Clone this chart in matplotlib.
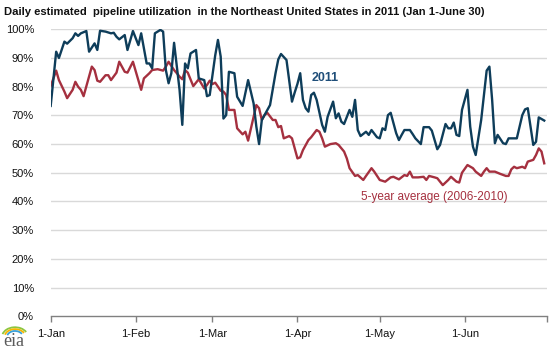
import numpy as np
import pandas as pd
import matplotlib
matplotlib.use("Agg")
import matplotlib.pyplot as plt
from matplotlib.patches import Arc

# day offsets from Jan 1, 2011 and utilization (%)
days_2011 = [0, 2, 3, 5, 6, 8, 9, 10, 11, 13, 14, 16, 17, 18, 20, 22, 23, 24, 25, 27,
             28, 30, 32, 33, 35, 36, 37, 38, 40, 41, 42, 43, 44, 45, 47, 48, 49, 50, 51, 53,
             54, 56, 57, 58, 60, 61, 62, 63, 64, 65, 67, 68, 70, 72, 74, 75, 76, 77, 79, 80,
             82, 83, 84, 86, 88, 89, 90, 91, 92, 93, 94, 95, 96, 97, 99, 100, 101, 103, 104, 105,
             106, 107, 109, 110, 111, 112, 113, 115, 116, 117, 119, 120, 121, 122, 123, 124, 126, 127, 128, 129,
             131, 132, 133, 135, 136, 138, 139, 141, 142, 144, 145, 146, 147, 148, 149, 150, 152, 153, 154, 155,
             157, 159, 160, 161, 162, 163, 165, 166, 167, 169, 170, 172, 173, 174, 176, 177, 178, 180]
util_2011 = [73.3, 92.2, 90.0, 95.7, 95.0, 96.9, 98.6, 97.7, 98.6, 99.4, 92.2, 95.1, 92.8, 99.5, 99.2, 98.6, 98.8, 97.4, 96.5, 98.0,
             92.8, 99.4, 94.5, 98.6, 88.1, 88.1, 86.4, 98.6, 99.8, 99.2, 85.8, 81.2, 84.7, 95.3, 78.9, 66.7, 88.1, 86.4, 91.6, 92.8,
             82.9, 82.3, 76.7, 77.1, 90.9, 96.3, 90.5, 68.9, 70.1, 85.2, 84.7, 76.5, 73.3, 82.3, 74.2, 66.1, 60.0, 68.4, 71.9, 73.6,
             84.7, 89.5, 91.4, 89.3, 74.8, 78.0, 81.0, 84.7, 75.4, 72.5, 71.3, 77.1, 77.9, 75.4, 66.7, 64.3, 69.5, 74.8, 69.0, 70.7,
             67.8, 67.0, 71.9, 69.5, 75.4, 64.9, 62.8, 64.3, 63.2, 64.9, 62.4, 62.0, 65.5, 64.9, 70.1, 70.9, 63.8, 61.4, 63.2, 64.9,
             64.9, 63.5, 62.0, 60.0, 65.9, 65.9, 64.7, 58.2, 59.7, 67.0, 65.5, 65.5, 67.5, 63.2, 62.8, 71.9, 78.9, 66.1, 59.1, 56.2,
             68.4, 85.6, 87.0, 75.4, 60.3, 63.2, 60.3, 60.0, 62.0, 62.0, 62.0, 70.1, 72.1, 72.5, 59.7, 60.8, 69.3, 68.2]

days_avg = [0, 2, 3, 5, 6, 8, 9, 10, 11, 12, 14, 15, 16, 17, 18, 20, 21, 22, 24, 25,
            27, 28, 30, 33, 34, 36, 37, 39, 41, 42, 43, 45, 46, 47, 48, 49, 50, 52, 53, 54,
            56, 57, 58, 59, 60, 62, 63, 64, 65, 67, 68, 70, 71, 72, 75, 76, 77, 78, 79, 81,
            82, 83, 84, 85, 87, 88, 89, 90, 91, 92, 94, 95, 97, 98, 99, 100, 102, 104, 105, 107,
            108, 109, 111, 112, 114, 115, 117, 118, 120, 122, 124, 125, 127, 129, 130, 131, 132, 134, 136, 137,
            138, 140, 141, 143, 145, 146, 148, 149, 150, 152, 154, 155, 157, 158, 159, 160, 162, 163, 164, 166,
            167, 168, 169, 170, 172, 173, 174, 176, 177, 178, 179, 180]
util_avg = [80.2, 85.6, 82.3, 78.3, 76.0, 78.9, 81.7, 80.0, 78.9, 76.7, 83.5, 87.0, 85.8, 82.1, 81.7, 84.0, 84.0, 82.3, 84.9, 88.7,
            85.2, 84.9, 88.7, 78.9, 82.9, 84.7, 85.8, 86.1, 85.6, 87.0, 88.7, 85.8, 84.7, 83.5, 82.6, 85.8, 84.9, 80.2, 81.4, 82.6,
            79.4, 80.6, 82.1, 80.9, 81.4, 78.6, 78.3, 77.1, 71.9, 71.9, 65.5, 63.4, 64.3, 61.2, 73.6, 72.5, 68.4, 70.1, 70.9, 68.4,
            68.4, 65.9, 66.3, 62.0, 62.8, 62.0, 58.5, 55.0, 55.4, 57.9, 61.4, 62.4, 64.9, 64.3, 62.0, 59.1, 60.0, 60.3, 59.7, 57.4,
            55.0, 51.6, 48.9, 49.2, 47.5, 48.9, 51.6, 50.4, 47.5, 46.9, 48.4, 48.6, 47.7, 49.2, 48.9, 50.4, 48.4, 48.4, 48.6, 47.5,
            48.9, 48.4, 48.1, 45.7, 47.5, 48.6, 46.9, 46.6, 50.0, 52.7, 51.6, 50.4, 48.9, 50.4, 51.6, 50.4, 50.4, 50.0, 49.6, 48.9,
            48.9, 51.2, 52.1, 51.6, 52.1, 51.6, 53.9, 54.5, 56.2, 58.5, 57.4, 53.3]

month_labels = ["1-Jan", "1-Feb", "1-Mar", "1-Apr", "1-May", "1-Jun", ""]
y_ticks = [0, 10, 20, 30, 40, 50, 60, 70, 80, 90, 100]

BLUE = "#0e3d5a"
RED = "#a5303f"

plt.rcParams["font.family"] = ["Liberation Sans", "DejaVu Sans"]

start = pd.Timestamp("2011-01-01")
x_2011 = start + pd.to_timedelta(days_2011, unit="D")
x_avg = start + pd.to_timedelta(days_avg, unit="D")
month_starts = pd.date_range("2011-01-01", "2011-07-01", freq="MS")

fig = plt.figure(figsize=(5.51, 3.51), dpi=100)
ax = fig.add_axes([0.092, 0.099, 0.9007, 0.8175])

for y in y_ticks[1:]:
    ax.axhline(y, color="#d9d9d9", linewidth=1, zorder=0)

ax.plot(x_avg, util_avg, color=RED, linewidth=1.7, solid_joinstyle="round")
ax.plot(x_2011, util_2011, color=BLUE, linewidth=1.7, solid_joinstyle="round")

ax.set_xlim(month_starts[0], month_starts[-1])
ax.set_ylim(0, 100)
ax.set_xticks(month_starts)
ax.set_xticklabels(month_labels)
ax.set_yticks(y_ticks)
ax.set_yticklabels([f"{v}%" for v in y_ticks])

for s in ["left", "right", "top"]:
    ax.spines[s].set_visible(False)
ax.spines["bottom"].set_color("#808080")
ax.spines["bottom"].set_linewidth(1)
ax.tick_params(axis="x", direction="out", length=4, width=1, color="#808080",
               labelsize=8, pad=5, labelcolor="#111111")
ax.tick_params(axis="y", length=0, labelsize=8, pad=12, labelcolor="#111111")

ax.text(pd.Timestamp("2011-04-06"), 83, "2011", color="#1f4e79", fontsize=9,
        fontweight="bold", va="center", ha="left")
ax.text(pd.Timestamp("2011-04-24"), 41.7, "5-year average (2006-2010)", color=RED,
        fontsize=8.5, va="center", ha="left")

fig.text(0.008, 1 - 12 / 351,
         "Daily estimated  pipeline utilization  in the Northeast United States in 2011 (Jan 1-June 30)",
         fontsize=8.15, fontweight="bold", color="#111111", va="center", ha="left")

# eia logo, roughly
fig.text(3 / 551, 1 - 341 / 351, "eia", family="Liberation Serif", fontsize=13,
         color="#5a5a5a", va="center", ha="left")
for w, c in [(26, "#8dc63f"), (21, "#f7b500"), (16, "#3aa0d8")]:
    fig.add_artist(Arc((15 / 551, 1 - 337 / 351), w / 551, (w * 0.75) / 351,
                       theta1=35, theta2=160, color=c, linewidth=1.3,
                       transform=fig.transFigure))

fig.savefig("out.png", dpi=100)
